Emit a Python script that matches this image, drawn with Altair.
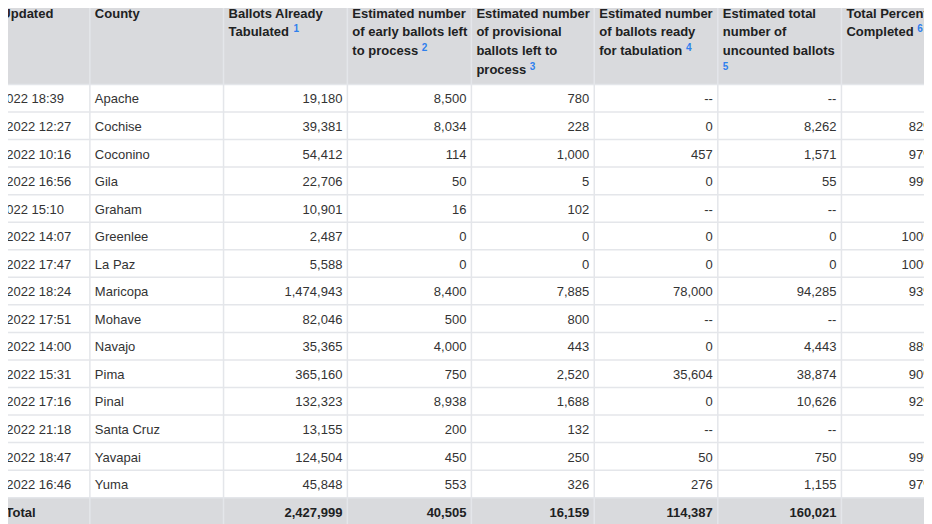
import altair as alt
import pandas as pd

# ---------------- data ----------------
counties = ["Apache", "Cochise", "Coconino", "Gila", "Graham", "Greenlee", "La Paz",
            "Maricopa", "Mohave", "Navajo", "Pima", "Pinal", "Santa Cruz", "Yavapai", "Yuma"]
updated_dates = ["11/9/2022", "11/10/2022", "11/10/2022", "11/10/2022", "11/9/2022",
                 "11/10/2022", "11/10/2022", "11/10/2022", "11/10/2022", "11/10/2022",
                 "11/10/2022", "11/10/2022", "11/10/2022", "11/10/2022", "11/10/2022"]
updated_times = ["18:39", "12:27", "10:16", "16:56", "15:10", "14:07", "17:47", "18:24",
                 "17:51", "14:00", "15:31", "17:16", "21:18", "18:47", "16:46"]
ballots_tabulated = [19180, 39381, 54412, 22706, 10901, 2487, 5588, 1474943, 82046,
                     35365, 365160, 132323, 13155, 124504, 45848]
early_left = [8500, 8034, 114, 50, 16, 0, 0, 8400, 500, 4000, 750, 8938, 200, 450, 553]
provisional_left = [780, 228, 1000, 5, 102, 0, 0, 7885, 800, 443, 2520, 1688, 132, 250, 326]
ready_for_tabulation = [None, 0, 457, 0, None, 0, 0, 78000, None, 0, 35604, 0, None, 50, 276]
uncounted_total = [None, 8262, 1571, 55, None, 0, 0, 94285, None, 4443, 38874, 10626, None, 750, 1155]
percent_completed = [None, 82, 97, 99, None, 100, 100, 93, None, 88, 90, 92, None, 99, 97]
total_label = "Total"
total_values = [2427999, 40505, 16159, 114387, 160021]

header_lines = [
    ["Last Updated"],
    ["County"],
    ["Ballots Already", "Tabulated"],
    ["Estimated number", "of early ballots left", "to process"],
    ["Estimated number", "of provisional", "ballots left to", "process"],
    ["Estimated number", "of ballots ready", "for tabulation"],
    ["Estimated total", "number of", "uncounted ballots", ""],
    ["Total Percentage", "Completed"],
]
footnote_marks = ["", "", "1", "2", "3", "4", "5", "6"]

# ---------------- layout ----------------
OFF = 8                                  # page margin
W, H = 932 - 2 * OFF, 524 - OFF          # svg is limited to the page width
SX = W / 932                             # fit the reference's full width into the svg
PAD = 5
FONT = "Liberation Sans"
first_edge_ref = -42.7
col_widths_ref = [126, 136, 126, 126.2, 125, 125.7, 125.8, 100]
col_align = ["left", "left"] + ["right"] * 6
edges_ref = [first_edge_ref]
for w in col_widths_ref:
    edges_ref.append(edges_ref[-1] + w)
edges = [e * SX for e in edges_ref]
header_bottom = 84.45 - OFF
row_h = 27.55
row_labels = counties + [total_label]
body_bottom = header_bottom + row_h * len(row_labels)
line_h = 18.7
first_baseline = 17.8 - OFF
sup_rise = 4.4
total_label_x = -2.5 * SX
body_dy = 1.2

HEADER_BG = "#d9dadd"
GRID = "#e4e6ea"
TEXT = "#333333"
HEAD_TEXT = "#202122"
SUP = "#2f80ed"

BOLD_W = {" ": 278, "a": 556, "b": 611, "c": 556, "d": 611, "e": 556, "f": 333, "g": 611,
          "h": 611, "i": 278, "j": 278, "k": 556, "l": 278, "m": 889, "n": 611, "o": 611,
          "p": 611, "q": 611, "r": 389, "s": 556, "t": 333, "u": 611, "v": 556, "w": 778,
          "x": 556, "y": 556, "z": 500, "B": 722, "C": 722, "E": 667, "L": 611, "T": 611,
          "U": 722}


def bold_width(s, size=13):
    return sum(BOLD_W.get(ch, 600) for ch in s) * size / 1000


def fmt(v):
    return "--" if v is None else f"{v:,}"


def cell_x(c):
    return edges[c] + PAD if col_align[c] == "left" else edges[c + 1] - PAD


# ---------------- tables ----------------
cells = []
for i, county in enumerate(counties):
    values = [f"{updated_dates[i]} {updated_times[i]}", county,
              fmt(ballots_tabulated[i]), fmt(early_left[i]), fmt(provisional_left[i]),
              fmt(ready_for_tabulation[i]), fmt(uncounted_total[i]),
              "" if percent_completed[i] is None else f"{percent_completed[i]}%"]
    for c, v in enumerate(values):
        cells.append({"row": county, "px": cell_x(c), "text": v,
                      "align": col_align[c], "bold": False})
cells.append({"row": total_label, "px": total_label_x, "text": total_label,
              "align": "left", "bold": True})
for k, v in enumerate(total_values):
    c = k + 2
    cells.append({"row": total_label, "px": cell_x(c), "text": fmt(v),
                  "align": "right", "bold": True})
cells_df = pd.DataFrame(cells)

head_df = pd.DataFrame([{"px": edges[c] + PAD, "text": "\n".join(lines)}
                        for c, lines in enumerate(header_lines)])

sups = []
for c, lines in enumerate(header_lines):
    if footnote_marks[c]:
        last = lines[-1]
        gap = bold_width(" ") if last else 0
        sups.append({"px": edges[c] + PAD + bold_width(last) + gap,
                     "line": len(lines) - 1, "text": footnote_marks[c]})
sup_df = pd.DataFrame(sups)

vlines_df = pd.DataFrame({"px": edges[1:-1]})
rows_df = pd.DataFrame({"row": row_labels})
total_df = pd.DataFrame({"row": [total_label]})
one_df = pd.DataFrame({"k": [0]})

# ---------------- scales ----------------
xs = alt.Scale(domain=[0, W], range=[0, W], nice=False, zero=False)
ys = alt.Scale(domain=row_labels, range=[header_bottom, body_bottom],
               paddingInner=0, paddingOuter=0, round=False)

header_bg = alt.Chart(one_df).mark_rect(color=HEADER_BG).encode(
    x=alt.value(0), x2=alt.value(W), y=alt.value(0), y2=alt.value(header_bottom))

total_bg = alt.Chart(total_df).mark_rect(color=HEADER_BG).encode(
    x=alt.value(0), x2=alt.value(W),
    y=alt.Y("row:N", scale=ys, axis=None))

row_rules = alt.Chart(rows_df).mark_rule(color=GRID, strokeWidth=1.5).encode(
    x=alt.value(0), x2=alt.value(W),
    y=alt.Y("row:N", scale=ys, axis=None, bandPosition=0))

col_rules = alt.Chart(vlines_df).mark_rule(color=GRID, strokeWidth=1.5).encode(
    x=alt.X("px:Q", scale=xs, axis=None),
    y=alt.value(0), y2=alt.value(H))

layers = [header_bg, total_bg, row_rules, col_rules]

for align in ["left", "right"]:
    for bold in [False, True]:
        sub = cells_df[(cells_df["align"] == align) & (cells_df["bold"] == bold)]
        if sub.empty:
            continue
        layers.append(
            alt.Chart(sub).mark_text(
                align=align, baseline="middle", font=FONT, fontSize=13, dy=body_dy,
                fontWeight="bold" if bold else "normal",
                color=HEAD_TEXT if bold else TEXT, clip=True,
            ).encode(
                x=alt.X("px:Q", scale=xs, axis=None),
                y=alt.Y("row:N", scale=ys, axis=None, bandPosition=0.5),
                text="text:N",
            )
        )

layers.append(
    alt.Chart(head_df).mark_text(
        align="left", baseline="top", font=FONT, fontSize=13, fontWeight="bold",
        color=HEAD_TEXT, lineBreak="\n", lineHeight=line_h, clip=True,
    ).encode(
        x=alt.X("px:Q", scale=xs, axis=None),
        y=alt.value(first_baseline - round(0.79 * 13)),
        text="text:N",
    )
)

for ln in sorted(sup_df["line"].unique()):
    sub = sup_df[sup_df["line"] == ln]
    layers.append(
        alt.Chart(sub).mark_text(
            align="left", baseline="alphabetic", font=FONT, fontSize=10,
            fontWeight="bold", color=SUP, clip=True,
        ).encode(
            x=alt.X("px:Q", scale=xs, axis=None),
            y=alt.value(first_baseline + int(ln) * line_h - sup_rise),
            text="text:N",
        )
    )

chart = alt.layer(*layers).properties(
    width=W, height=H,
    autosize=alt.AutoSizeParams(type="none"),
    padding=0,
    background="white",
).configure_view(stroke=None)

chart.save("out.html", embed_options={"renderer": "svg", "actions": False})
